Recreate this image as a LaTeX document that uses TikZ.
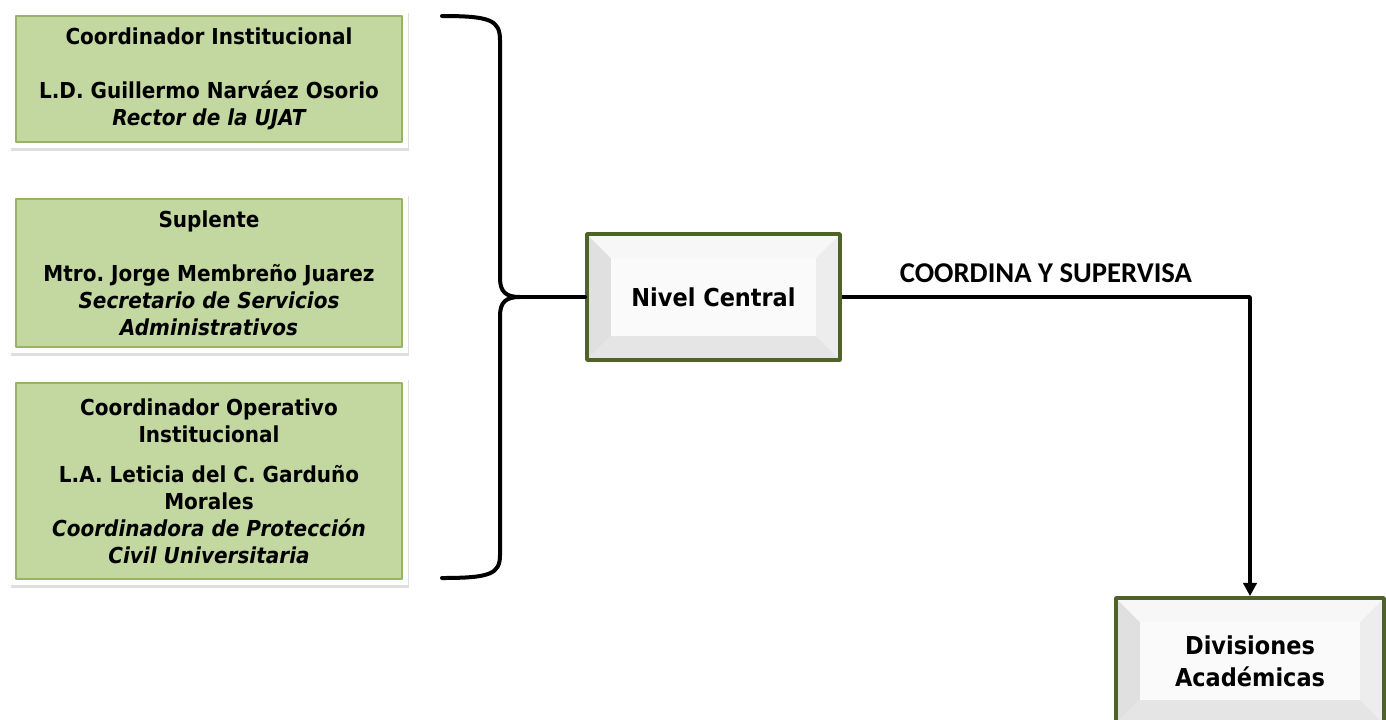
\documentclass[tikz,border=0pt]{standalone}
\usepackage{fontspec}
\setmainfont[FakeStretch=0.91]{DejaVu Sans}
\newfontfamily\labelfont{Carlito}
\usetikzlibrary{positioning,shadows,arrows.meta}
\definecolor{boxgreen}{RGB}{195,215,160}
\definecolor{edgegreen}{RGB}{150,180,100}
\definecolor{ncgreen}{RGB}{79,98,40}
\frenchspacing
\begin{document}
\begin{tikzpicture}[x=0.75pt, y=-0.75pt, line join=round, line cap=round,
  >={Triangle[length=10pt,width=10pt]},
  greenbox/.style={rectangle, fill=white, inner sep=0pt, align=center,
    font=\bfseries\fontsize{16.5}{20.25}\selectfont,
    drop shadow={shadow xshift=1pt, shadow yshift=-2pt, opacity=0.25},
    path picture={\fill[boxgreen, draw=edgegreen, line width=0.8pt]
      ([shift={(4.5pt,-4.5pt)}]path picture bounding box.north west) rectangle
      ([shift={(-4.5pt,4.5pt)}]path picture bounding box.south east);}},
  bevelbox/.style={rectangle, draw=ncgreen, line width=2.8pt, fill=white,
    inner sep=0pt, align=center,
    font=\bfseries\fontsize{18.5}{24}\selectfont,
    drop shadow={shadow xshift=1.5pt, shadow yshift=-1.5pt, opacity=0.3},
    path picture={
      \path (path picture bounding box.north west) coordinate (pnw)
        (path picture bounding box.south east) coordinate (pse)
        (path picture bounding box.north east) coordinate (pne)
        (path picture bounding box.south west) coordinate (psw);
      \fill[black!12] (pnw) -- (psw) -- ([shift={(18pt,18pt)}]psw) -- ([shift={(18pt,-18pt)}]pnw) -- cycle;
      \fill[black!3] (pnw) -- (pne) -- ([shift={(-18pt,-18pt)}]pne) -- ([shift={(18pt,-18pt)}]pnw) -- cycle;
      \fill[black!7] (pne) -- (pse) -- ([shift={(-18pt,18pt)}]pse) -- ([shift={(-18pt,-18pt)}]pne) -- cycle;
      \fill[black!10] (psw) -- (pse) -- ([shift={(-18pt,18pt)}]pse) -- ([shift={(18pt,18pt)}]psw) -- cycle;
      \fill[black!2] ([shift={(18pt,-18pt)}]pnw) rectangle ([shift={(-18pt,18pt)}]pse);}}]
\useasboundingbox (0,0) rectangle (1386,719);
% responsables
\node[greenbox, minimum width=398*0.75pt, minimum height=138*0.75pt] (coord) at (209,79)
  {Coordinador Institucional\\[20.25pt] L.D. Guillermo Narváez Osorio\\ \itshape Rector de la UJAT};
\node[greenbox, minimum width=398*0.75pt, minimum height=160*0.75pt] (supl) at (209,273)
  {Suplente\\[20.25pt] Mtro. Jorge Membreño Juarez\\ \itshape Secretario de Servicios\\ \itshape Administrativos};
\node[greenbox, minimum width=398*0.75pt, minimum height=208*0.75pt] (oper) at (209,481)
  {Coordinador Operativo\\ Institucional\\[10pt] L.A. Leticia del C. Garduño\\ Morales\\ \itshape Coordinadora de Protección\\ \itshape Civil Universitaria};
% niveles
\node[bevelbox, minimum width=253*0.75pt, minimum height=126*0.75pt] (central) at (713.5,297) {Nivel Central};
\node[bevelbox, minimum width=268*0.75pt, minimum height=126*0.75pt] (div) at (1250,661) {Divisiones\\ Académicas};
% llave
\path (442,16) coordinate (T) (520,297) coordinate (P) (442,578) coordinate (B);
\draw[line width=3pt] (T) .. controls (490,16) and (500,20) .. (500,40) -- (500,278)
  .. controls (500,292) and (506,297) .. (P)
  .. controls (506,297) and (500,302) .. (500,316) -- (500,555)
  .. controls (500,574) and (490,578) .. (B);
\draw[line width=3pt] (P) -- (central.west);
% conector
\draw[->, line width=2.6pt, line cap=butt] (central.east) -| (div.north)
  node[pos=0.25, above=6pt, font=\labelfont\bfseries\fontsize{21.5}{24}\selectfont, black] (tag) {COORDINA Y SUPERVISA};
\end{tikzpicture}
\end{document}
